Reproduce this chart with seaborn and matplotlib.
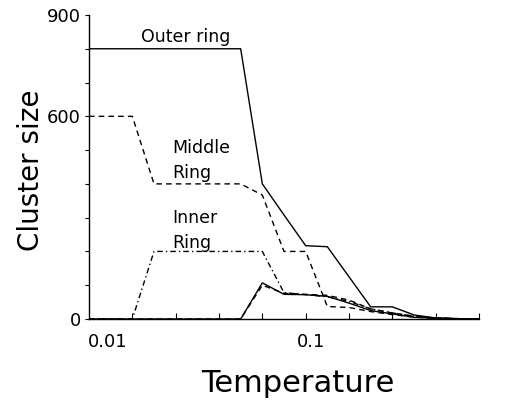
import matplotlib
matplotlib.use("Agg")
import matplotlib.pyplot as plt
import seaborn as sns
import pandas as pd
from matplotlib.ticker import FixedLocator, NullFormatter

# Temperature steps (index positions along the axis)
step = list(range(19))

outer_ring = [800, 800, 800, 800, 800, 800, 800, 800, 400, 308, 217, 214, 125, 36, 36, 12, 3, 1, 0]
middle_ring = [600, 600, 600, 400, 400, 400, 400, 400, 367, 200, 200, 37, 34, 22, 13, 6, 2, 1, 0]
inner_ring = [0, 0, 0, 200, 200, 200, 200, 200, 200, 78, 72, 66, 52, 30, 18, 8, 3, 1, 0]
outer_small = [0, 0, 0, 0, 0, 0, 0, 0, 107, 73, 72, 67, 47, 25, 15, 5, 2, 1, 0]
middle_small = [0, 0, 0, 0, 0, 0, 0, 0, 100, 76, 73, 70, 56, 30, 18, 8, 3, 1, 0]

x_tick_pos = [0.85, 10.25, 18.2]
x_tick_labels = ["0.01", "0.1", "0.18"]
y_major = [0, 600, 900]
y_minor = [100, 200, 300, 400, 500, 700, 800]

sns.set_style("ticks")
plt.rcParams['font.family'] = ['DejaVu Sans']
plt.rcParams['lines.scale_dashes'] = False
plt.rcParams['text.color'] = 'black'
plt.rcParams['axes.labelcolor'] = 'black'
plt.rcParams['xtick.color'] = 'black'
plt.rcParams['ytick.color'] = 'black'

fig = plt.figure(figsize=(5.05, 4.08), dpi=100)
ax = fig.add_axes([89/505, 1-319/408, (479-89)/505, (319-15)/408])

series = [
    (outer_ring, None),
    (middle_ring, (0, (4.0, 3.0))),
    (inner_ring, (0, (4.0, 2.2, 1.0, 2.2))),
    (outer_small, None),
    (middle_small, (0, (4.0, 3.0))),
]
for vals, dash in series:
    df = pd.DataFrame({"step": step, "size": vals})
    sns.lineplot(data=df, x="step", y="size", ax=ax, color="black", lw=1.0)
    line = ax.lines[-1]
    if dash is not None:
        line.set_linestyle(dash)

ax.set_xlim(0, 18)
ax.set_ylim(0, 900)
sns.despine(ax=ax)
for s in ["left", "bottom"]:
    ax.spines[s].set_linewidth(1.0)
    ax.spines[s].set_color("black")

ax.xaxis.set_major_locator(FixedLocator(x_tick_pos))
ax.set_xticklabels(x_tick_labels)
ax.xaxis.set_minor_locator(FixedLocator([2, 4, 6, 8, 10, 12, 14, 16, 18]))
ax.tick_params(axis="x", which="major", length=0, labelsize=13, pad=10)
ax.tick_params(axis="x", which="minor", direction="in", length=4, width=0.8)

ax.yaxis.set_major_locator(FixedLocator(y_major))
ax.yaxis.set_minor_locator(FixedLocator(y_minor))
ax.yaxis.set_minor_formatter(NullFormatter())
ax.tick_params(axis="y", which="both", direction="out", length=3, width=0.8, labelsize=13, pad=3)

ax.set_xlabel("Temperature", fontsize=22)
ax.xaxis.set_label_coords((298-89)/390, -(383-319)/304, transform=ax.transAxes)
ax.xaxis.label.set_va("center")
ax.set_ylabel("Cluster size", fontsize=20)
ax.yaxis.set_label_coords(-(89-31)/390, (319-170)/304, transform=ax.transAxes)
ax.yaxis.label.set_va("center")

ax.text(4.45, 835, "Outer ring", fontsize=12.5, ha="center", va="center")
ax.text(3.85, 470, "Middle\nRing", fontsize=12.5, ha="left", va="center", linespacing=1.5)
ax.text(3.85, 262, "Inner\nRing", fontsize=12.5, ha="left", va="center", linespacing=1.5)

fig.savefig("out.png", dpi=100)
